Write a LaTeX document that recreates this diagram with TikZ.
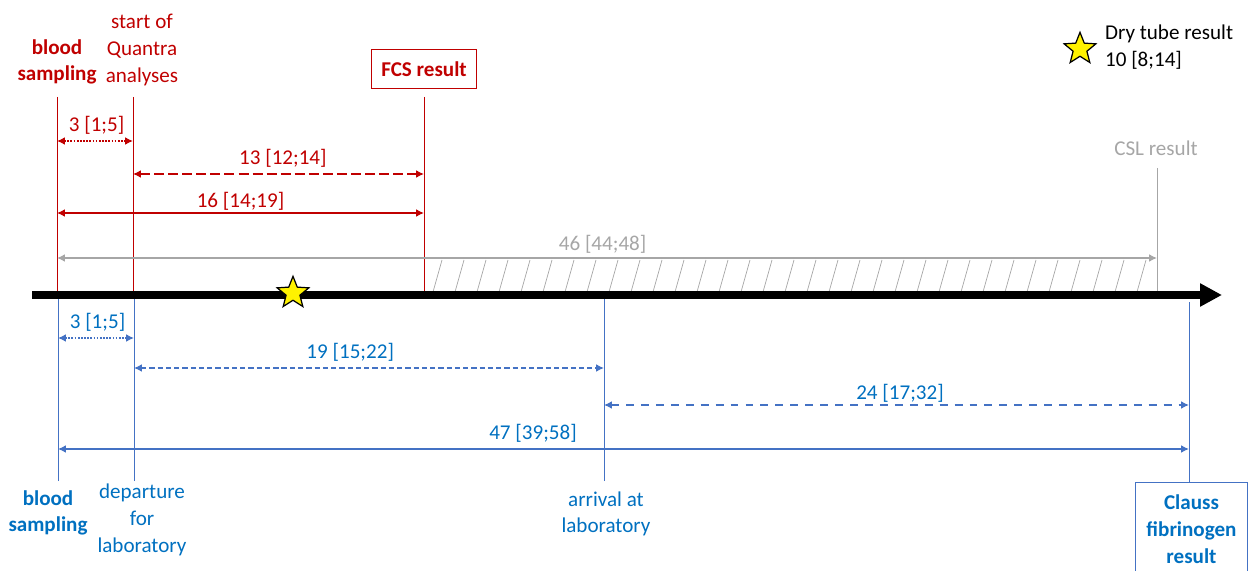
\documentclass[tikz,border=0pt]{standalone}
\usepackage{fontspec}
\setmainfont{Carlito}
\usepackage{xcolor}
\usetikzlibrary{arrows.meta}
\usetikzlibrary{shapes.geometric}
\definecolor{fcsred}{RGB}{192,0,0}
\definecolor{labblue}{RGB}{68,114,196}
\definecolor{labtext}{RGB}{0,112,192}
\definecolor{cslgray}{RGB}{166,166,166}
\newcommand{\labfont}{\fontsize{12}{15.2}\selectfont}
\newcommand{\spantip}{Latex[length=4.5pt,width=4.5pt]}

\begin{document}
\begin{tikzpicture}[x=0.02cm,y=-0.02cm]
\tikzstyle{every node}=[font=\labfont,inner sep=1pt]
\tikzstyle{boldlab}=[font=\labfont\bfseries,align=center]
\tikzstyle{plainlab}=[align=center]
\tikzstyle{tick}=[line width=0.5pt]
\tikzstyle{span}=[line width=1.1pt,arrows={\spantip-\spantip}]
\tikzstyle{dur}=[above=2pt]
\tikzstyle{dots}=[dash pattern=on 1pt off 0.8pt]
\tikzstyle{hatch}=[cslgray,line width=0.4pt]
\tikzstyle{star5}=[star,star points=5,star point ratio=2.3,draw=black,fill=yellow,line width=0.7pt,minimum size=19pt,inner sep=0pt]
\useasboundingbox (0,0) rectangle (1249,571);

% labels above the axis
\node[boldlab,text=fcsred] (bsTop) at (57,62) {blood\\sampling};
\node[plainlab,text=fcsred] (quantra) at (142,50) {start of\\Quantra\\analyses};
\node[boldlab,text=fcsred,draw=fcsred,line width=0.6pt,minimum width=60pt,minimum height=22.7pt] (fcs) at (424,69) {FCS result};
\node[plainlab,text=cslgray] (csl) at (1156,148) {CSL result};
\node[star5] (legStar) at (1080,49) {};
\node[anchor=west,align=left] (legText) at (1103,47) {Dry tube result\\10 [8;14]};

% labels below the axis
\node[boldlab,text=labtext] (bsBot) at (48,513) {blood\\sampling};
\node[plainlab,text=labtext] (depart) at (142,520) {departure\\for\\laboratory};
\node[plainlab,text=labtext] (arrive) at (606,514) {arrival at\\laboratory};
\node[boldlab,text=labtext,draw=labblue,line width=0.6pt,minimum width=64pt,minimum height=53.3pt] (clauss) at (1191.5,529) {Clauss\\fibrinogen\\result};

% tick ends
\coordinate (rBs) at (57,97);
\coordinate (rQu) at (133,97);
\coordinate (rFcs) at (424,97);
\coordinate (gCsl) at (1157,168);
\coordinate (bBs) at (58,481);
\coordinate (bDep) at (134,481);
\coordinate (bArr) at (604,481);
\coordinate (bCl) at (1189,482);

\draw[tick,fcsred] (rBs) -- (rBs |- 0,295);
\draw[tick,fcsred] (rQu) -- (rQu |- 0,295);
\draw[tick,fcsred] (rFcs) -- (rFcs |- 0,295);
\draw[tick,cslgray] (gCsl) -- (gCsl |- 0,295);
\draw[tick,labblue] (bBs) -- (bBs |- 0,299);
\draw[tick,labblue] (bDep) -- (bDep |- 0,299);
\draw[tick,labblue] (bArr) -- (bArr |- 0,299);
\draw[tick,labblue] (bCl) -- (bCl |- 0,302);

% hatched waiting time
\foreach \hx in {433,455,...,1140}
  \draw[hatch] (\hx,292) -- ++(9,-32);

% durations
\draw[span,fcsred,dots] (rBs |- 0,141) -- node[dur,pos=0.52] {3 [1;5]} (rQu |- 0,141);
\draw[span,fcsred,dash pattern=on 5.7pt off 2.3pt] (rQu |- 0,174) -- node[dur,pos=0.515] {13 [12;14]} (rFcs |- 0,174);
\draw[span,fcsred] (rBs |- 0,213) -- node[above=0pt] {16 [14;19]} (rFcs |- 0,213);
\draw[span,cslgray] (rBs |- 0,258) -- node[above=1pt,pos=0.496] {46 [44;48]} (gCsl |- 0,258);

\draw[span,labblue,dots] (bBs |- 0,338) -- node[dur,text=labtext,pos=0.52] {3 [1;5]} (bDep |- 0,338);
\draw[span,labblue,dash pattern=on 3pt off 1.7pt] (bDep |- 0,368) -- node[dur,text=labtext,pos=0.46] {19 [15;22]} (bArr |- 0,368);
\draw[span,labblue,dash pattern=on 4.5pt off 4pt] (bArr |- 0,405) -- node[above=0pt,text=labtext,pos=0.506] {24 [17;32]} (bCl |- 0,405);
\draw[span,labblue,line width=1.4pt] (bBs |- 0,449) -- node[dur,text=labtext,pos=0.42] {47 [39;58]} (bCl |- 0,449);

% time axis
\coordinate (axL) at (32,295);
\coordinate (axR) at (1222,295);
\draw[line width=4.3pt,-{Triangle[length=12.5pt,width=12.5pt]}] (axL) -- (axR);
\node[star5] (dryStar) at (293,293) {};
\end{tikzpicture}
\end{document}
